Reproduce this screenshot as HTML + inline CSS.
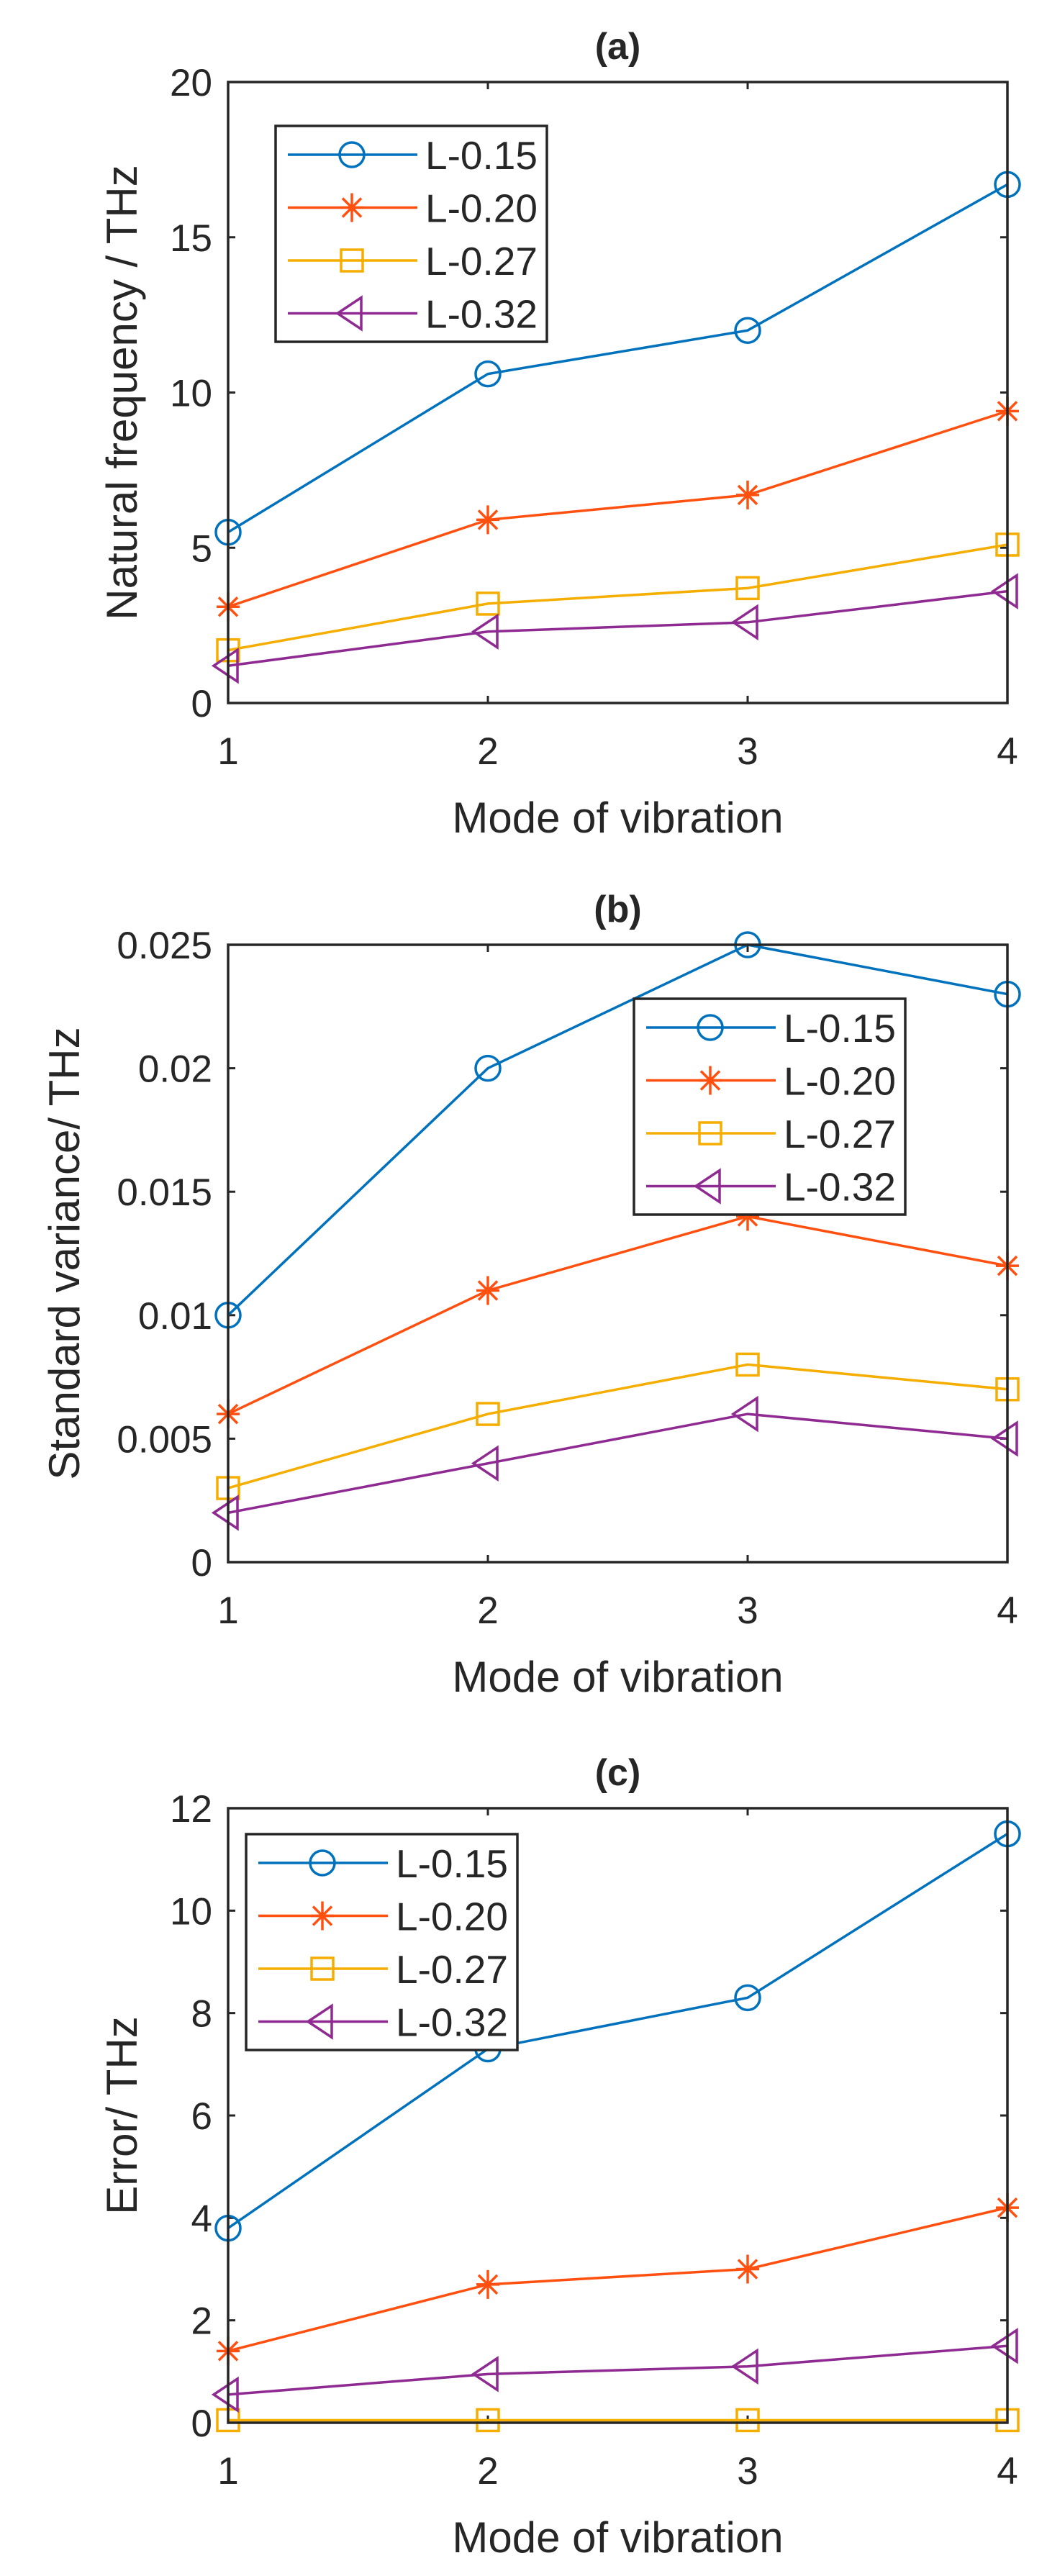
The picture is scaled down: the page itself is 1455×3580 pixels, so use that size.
<!DOCTYPE html>
<html><head><meta charset="utf-8"><style>
html,body{margin:0;padding:0;background:#fff;}
svg{display:block;}
text{font-family:"Liberation Sans",sans-serif;fill:#262626;}
</style></head><body>
<svg id="fig" width="1455" height="3580" viewBox="0 0 1455 3580" xmlns="http://www.w3.org/2000/svg"></svg>
<script>
const categories = [1, 2, 3, 4];
const seriesNames = ["L-0.15", "L-0.20", "L-0.27", "L-0.32"];
const aL015 = [5.5, 10.6, 12.0, 16.7];
const aL020 = [3.1, 5.9, 6.7, 9.4];
const aL027 = [1.7, 3.2, 3.7, 5.1];
const aL032 = [1.2, 2.3, 2.6, 3.6];
const aTicks = [0, 5, 10, 15, 20];
const aTickLabels = ["0", "5", "10", "15", "20"];
const bL015 = [0.010, 0.020, 0.025, 0.023];
const bL020 = [0.006, 0.011, 0.014, 0.012];
const bL027 = [0.003, 0.006, 0.008, 0.007];
const bL032 = [0.002, 0.004, 0.006, 0.005];
const bTicks = [0, 0.005, 0.01, 0.015, 0.02, 0.025];
const bTickLabels = ["0", "0.005", "0.01", "0.015", "0.02", "0.025"];
const cL015 = [3.8, 7.3, 8.3, 11.5];
const cL020 = [1.4, 2.7, 3.0, 4.2];
const cL027 = [0.05, 0.05, 0.05, 0.05];
const cL032 = [0.55, 0.95, 1.1, 1.5];
const cTicks = [0, 2, 4, 6, 8, 10, 12];
const cTickLabels = ["0", "2", "4", "6", "8", "10", "12"];

const NS = "http://www.w3.org/2000/svg";
const svg = document.getElementById('fig');
const colors = ["#0072BD", "#FF5010", "#F5AE00", "#8E2A91"];
const markers = ["circle", "star", "square", "triangle"];

function mk(tag, attrs, parent) {
  const e = document.createElementNS(NS, tag);
  for (const k in attrs) e.setAttribute(k, attrs[k]);
  (parent || svg).appendChild(e);
  return e;
}
function drawMarker(g, type, x, y, color) {
  let m;
  if (type === "circle") m = mk('circle', {cx:x, cy:y, r:17, fill:'none', stroke:color, 'stroke-width':3.5}, g);
  else if (type === "square") m = mk('rect', {x:x-15, y:y-15, width:30, height:30, fill:'none', stroke:color, 'stroke-width':3.5}, g);
  else if (type === "triangle") m = mk('polygon', {points:`${x-20},${y} ${x+13},${y-22} ${x+13},${y+22}`, fill:'none', stroke:color, 'stroke-width':3.5}, g);
  else m = mk('path', {d:`M${x},${y-20}V${y+20}M${x-16},${y}H${x+16}M${x-13},${y-13}L${x+13},${y+13}M${x-13},${y+13}L${x+13},${y-13}`, stroke:color, 'stroke-width':3.5}, g);
  
  
}

function panel(cfg) {
  const {top, bottom, left, right, ymax, ticks, tickLabels, series, title, ylabel, ylabelX, legend, key} = cfg;
  const g = mk('g', {});
  
  
  const xs = v => left + (v - 1) / 3 * (right - left);
  const ys = v => bottom - v / ymax * (bottom - top);
  // ticks
  ticks.forEach((t, i) => {
    const y = ys(t);
    mk('line', {x1:left, x2:left+10, y1:y, y2:y, stroke:'#262626', 'stroke-width':3}, g);
    mk('line', {x1:right, x2:right-10, y1:y, y2:y, stroke:'#262626', 'stroke-width':3}, g);
    const tl = mk('text', {x:left-22, y:y+19, 'font-size':53, 'text-anchor':'end'}, g);
    tl.textContent = tickLabels[i];
    
    
  });
  categories.forEach(c => {
    const x = xs(c);
    mk('line', {x1:x, x2:x, y1:bottom, y2:bottom-10, stroke:'#262626', 'stroke-width':3}, g);
    mk('line', {x1:x, x2:x, y1:top, y2:top+10, stroke:'#262626', 'stroke-width':3}, g);
    const tl = mk('text', {x:x, y:bottom+85, 'font-size':53, 'text-anchor':'middle'}, g);
    tl.textContent = String(c);
    
    
  });
  // series
  series.forEach((vals, si) => {
    const sg = mk('g', {}, g);
    
    
    const pts = vals.map((v, i) => `${xs(categories[i])},${ys(v)}`).join(' ');
    const pl = mk('polyline', {points:pts, fill:'none', stroke:colors[si], 'stroke-width':3.5}, sg);
    
    
    vals.forEach((v, i) => drawMarker(sg, markers[si], xs(categories[i]), ys(v), colors[si]));
  });
  // axes box
  const box = mk('rect', {x:left, y:top, width:right-left, height:bottom-top, fill:'none', stroke:'#262626', 'stroke-width':3.5}, g);
  
  
  // title
  const tt = mk('text', {x:(left+right)/2, y:top-32, 'font-size':52, 'font-weight':'bold', 'text-anchor':'middle', fill:'#000'}, g);
  tt.textContent = title;
  
  
  // x label
  const xl = mk('text', {x:(left+right)/2, y:bottom+180, 'font-size':60, 'text-anchor':'middle'}, g);
  xl.textContent = "Mode of vibration";
  
  
  const cy = (top + bottom) / 2;
  const yl = mk('text', {x:ylabelX, y:cy, 'font-size':60, 'text-anchor':'middle', transform:`rotate(-90 ${ylabelX} ${cy})`}, g);
  yl.textContent = ylabel;
  
  
  // legend
  const lg = mk('g', {}, g);
  
  
  mk('rect', {x:legend.x, y:legend.y, width:377, height:300, fill:'#fff', stroke:'#262626', 'stroke-width':3.5}, lg);
  seriesNames.forEach((n, i) => {
    const ey = legend.y + 40 + i * 73.5;
    const eg = mk('g', {}, lg);
    
    
    mk('line', {x1:legend.x+17, x2:legend.x+197, y1:ey, y2:ey, stroke:colors[i], 'stroke-width':3.5}, eg);
    drawMarker(eg, markers[i], legend.x+106, ey, colors[i]);
    const t = mk('text', {x:legend.x+208, y:ey+20, 'font-size':55, fill:'#000'}, eg);
    t.textContent = n;
  });
}

panel({key:'a', top:114, bottom:977, left:317, right:1400, ymax:20, ticks:aTicks, tickLabels:aTickLabels,
  series:[aL015,aL020,aL027,aL032], title:"(a)", ylabel:"Natural frequency / THz", ylabelX:190,
  legend:{x:383, y:175}});
panel({key:'b', top:1313, bottom:2171, left:317, right:1400, ymax:0.025, ticks:bTicks, tickLabels:bTickLabels,
  series:[bL015,bL020,bL027,bL032], title:"(b)", ylabel:"Standard variance/ THz", ylabelX:110,
  legend:{x:881, y:1388}});
panel({key:'c', top:2513, bottom:3367, left:317, right:1400, ymax:12, ticks:cTicks, tickLabels:cTickLabels,
  series:[cL015,cL020,cL027,cL032], title:"(c)", ylabel:"Error/ THz", ylabelX:190,
  legend:{x:342, y:2549}});
</script>
</body></html>
